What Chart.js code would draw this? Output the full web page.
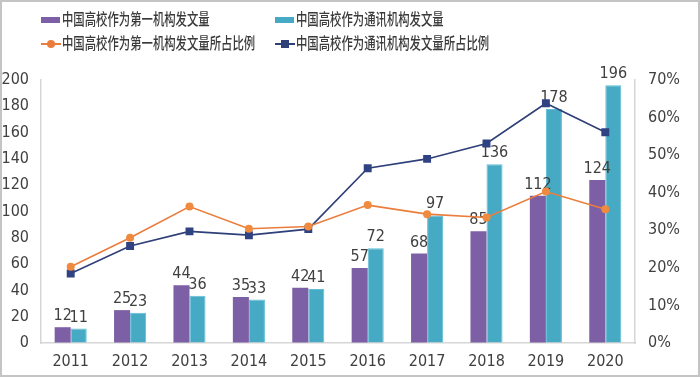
<!DOCTYPE html>
<html>
<head>
<meta charset="utf-8">
<script src="https://cdn.jsdelivr.net/npm/chart.js@4/dist/chart.umd.min.js"></script>
<style>
  html,body{margin:0;padding:0;background:#fff;}
  #wrap{position:relative;width:700px;height:377px;box-sizing:border-box;border:2px solid #c4c4c4;overflow:hidden;}
  #c{position:absolute;left:-2px;top:-2px;}
  .lg{position:absolute;font:500 16px "Noto Sans CJK SC",sans-serif;color:#3a3a3a;white-space:nowrap;line-height:20px;transform:scaleX(0.71);transform-origin:0 50%;}
  .sw{position:absolute;}
</style>
</head>
<body>
<div id="wrap">
  <canvas id="c" width="700" height="377"></canvas>
  <div id="legend"></div>
</div>
<script>
(function(){
  const years=['2011','2012','2013','2014','2015','2016','2017','2018','2019','2020'];
  const firstCount=[12,25,44,35,42,57,68,85,112,124];
  const corrCount=[11,23,36,33,41,72,97,136,178,196];
  const firstRatio=[20.3,28.0,36.3,30.4,31.0,36.7,34.3,33.4,40.3,35.6];
  const corrRatio=[18.5,25.8,29.7,28.7,30.3,46.5,49.0,53.1,63.8,56.1];
  const names=['中国高校作为第一机构发文量','中国高校作为通讯机构发文量','中国高校作为第一机构发文量所占比例','中国高校作为通讯机构发文量所占比例'];

  const PURPLE='#7C5FA5',TEAL='#46AAC4',ORANGE='#EB7D3C',NAVY='#2F3F78',INK='#404040',AX='#d6d6d6';
  const NUM='"Liberation Sans Narrow","DejaVu Sans Condensed",sans-serif';

  // html legend
  const lg=document.getElementById('legend');
  const items=[
    {x:39,y:18,t:names[0],k:'bar',c:PURPLE},
    {x:273,y:18,t:names[1],k:'bar',c:TEAL},
    {x:39,y:42,t:names[2],k:'circle',c:ORANGE},
    {x:273,y:42,t:names[3],k:'rect',c:NAVY}
  ];
  items.forEach(it=>{
    let h='';
    if(it.k==='bar') h+=`<div class="sw" style="left:${it.x}px;top:${it.y-3}px;width:19px;height:6px;background:${it.c}"></div>`;
    else{
      h+=`<div class="sw" style="left:${it.x}px;top:${it.y-1}px;width:20px;height:2px;background:${it.c}"></div>`;
      if(it.k==='circle') h+=`<div class="sw" style="left:${it.x+6}px;top:${it.y-4}px;width:8px;height:8px;border-radius:50%;background:${it.c}"></div>`;
      else h+=`<div class="sw" style="left:${it.x+6}px;top:${it.y-4}px;width:8px;height:8px;background:${it.c}"></div>`;
    }
    h+=`<div class="lg" style="left:${it.x+21}px;top:${it.y-12}px">${it.t}</div>`;
    lg.insertAdjacentHTML('beforeend',h);
  });

  const barLabels={
    id:'barLabels',
    afterDatasetDraw(chart,args){
      const ds=chart.data.datasets[args.index];
      if(ds.type!=='bar')return;
      const ctx=chart.ctx;
      ctx.save();
      ctx.font='16px '+NUM;ctx.fillStyle=INK;ctx.textAlign='center';ctx.textBaseline='alphabetic';
      args.meta.data.forEach((el,i)=>{ctx.fillText(String(ds.data[i]),el.x,el.y-7);});
      ctx.restore();
    }
  };

  new Chart(document.getElementById('c'),{
    data:{
      labels:years,
      datasets:[
        {type:'line',label:names[2],data:firstRatio,yAxisID:'y1',borderColor:ORANGE,backgroundColor:'#F08A3E',borderWidth:1.6,pointStyle:'circle',pointRadius:4,pointBorderWidth:0,tension:0,order:0},
        {type:'line',label:names[3],data:corrRatio,yAxisID:'y1',borderColor:NAVY,backgroundColor:'#2F4282',borderWidth:1.6,pointStyle:'rect',pointRadius:5.6,pointBorderWidth:0,tension:0,order:0},
        {type:'bar',label:names[0],data:firstCount,yAxisID:'y',backgroundColor:PURPLE,categoryPercentage:0.54,barPercentage:1,order:1},
        {type:'bar',label:names[1],data:corrCount,yAxisID:'y',backgroundColor:TEAL,borderColor:'#5FBED6',borderWidth:1,categoryPercentage:0.54,barPercentage:1,order:1}
      ]
    },
    options:{
      responsive:false,animation:false,
      layout:{padding:{top:80,left:0,right:0,bottom:0}},
      plugins:{legend:{display:false},tooltip:{enabled:false}},
      scales:{
        x:{grid:{drawOnChartArea:false,drawTicks:false},border:{color:AX,width:1.5},
           ticks:{color:INK,font:{family:NUM,size:16},padding:9},afterFit:s=>{s.height=34;}},
        y:{position:'left',min:0,max:200,grid:{drawOnChartArea:false,drawTicks:false},border:{color:AX,width:1.5},
           ticks:{stepSize:20,color:INK,font:{family:NUM,size:16},padding:12},afterFit:s=>{s.width=41;}},
        y1:{position:'right',min:0,max:70,grid:{drawOnChartArea:false,drawTicks:false},border:{color:AX,width:1.5},
           ticks:{stepSize:10,color:INK,font:{family:NUM,size:16},padding:13,callback:v=>v+'%'},afterFit:s=>{s.width=65;}}
      }
    },
    plugins:[barLabels]
  });
})();
</script>
</body>
</html>
